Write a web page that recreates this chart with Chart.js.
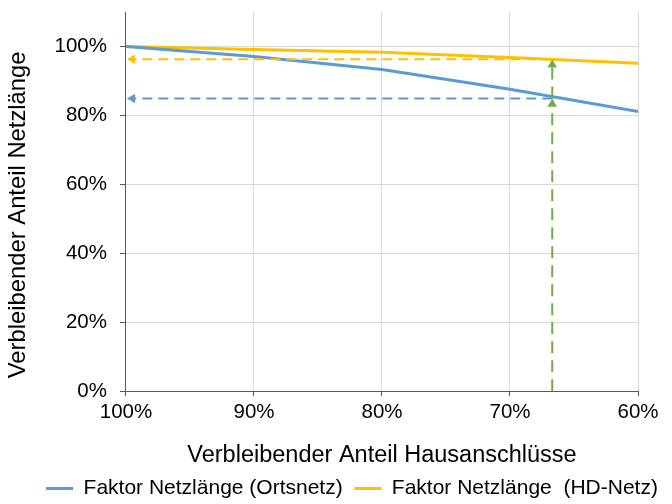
<!DOCTYPE html>
<html>
<head>
<meta charset="utf-8">
<script src="https://cdn.jsdelivr.net/npm/chart.js@4.4.0/dist/chart.umd.min.js"></script>
<style>
  html, body { margin: 0; padding: 0; background: #fff; }
  #box { width: 672px; height: 504px; }
</style>
</head>
<body>
<div id="box"><canvas id="chart"></canvas></div>
<script>
// Anteil Hausanschlüsse (x) und Netzlänge (y), in %
const hausanschluss = [100, 90, 80, 70, 60];
const ortsnetz = [100, 97.1, 93.3, 87.6, 81.1];
const hdNetz = [100, 99.1, 98.3, 96.8, 95.1];
const seriesNames = ['Faktor Netzlänge (Ortsnetz)', 'Faktor Netzlänge  (HD-Netz)'];

// Ablesebeispiel: 2/3 der Hausanschlüsse
const markX = 66.7;
const markOrts = 84.9;
const markHd = 96.3;
const arrowEndX = 99.5;

const blue = '#5B9BD5';
const orange = '#FFC000';
const green = '#70AD47';
const fontFamily = 'Liberation Sans';

const toPts = (xs, ys) => xs.map((x, i) => ({ x: x, y: ys[i] }));

function dashed(color, pts, rot, dash) {
  return {
    label: '',
    data: pts,
    borderColor: color,
    backgroundColor: color,
    borderWidth: 2,
    borderDash: dash,
    pointStyle: 'triangle',
    pointRadius: [0, 5.5],
    pointRotation: rot,
    pointBorderWidth: 0,
    pointHoverRadius: 0,
    order: 0
  };
}

const ctx = document.getElementById('chart').getContext('2d');
new Chart(ctx, {
  type: 'line',
  data: {
    datasets: [
      {
        // two trailing spaces = gap between the legend entries
        label: seriesNames[0] + '  ',
        data: toPts(hausanschluss, ortsnetz),
        borderColor: blue,
        backgroundColor: blue,
        borderWidth: 3,
        pointRadius: 0,
        tension: 0,
        order: 1
      },
      {
        label: seriesNames[1],
        data: toPts(hausanschluss, hdNetz),
        borderColor: orange,
        backgroundColor: orange,
        borderWidth: 3,
        pointRadius: 0,
        tension: 0,
        order: 1
      },
      dashed(blue, [{ x: markX, y: markOrts }, { x: arrowEndX, y: markOrts }], -90, [10, 6]),
      dashed(orange, [{ x: markX, y: markHd }, { x: arrowEndX, y: markHd }], -90, [10, 6]),
      dashed(green, [{ x: markX, y: 0 }, { x: markX, y: markOrts - 1.6 }], 0, [12, 7]),
      dashed(green, [{ x: markX, y: markOrts }, { x: markX, y: markHd - 1.6 }], 0, [12, 7])
    ]
  },
  options: {
    responsive: true,
    maintainAspectRatio: false,
    animation: false,
    layout: { padding: { top: 0, right: 0, left: 32, bottom: -5 } },
    plugins: {
      tooltip: { enabled: false },
      legend: {
        position: 'bottom',
        labels: {
          filter: item => item.text !== '',
          color: '#000',
          font: { family: fontFamily, size: 21 },
          boxWidth: 27,
          boxHeight: 3,
          padding: 0,
          generateLabels: chart => Chart.defaults.plugins.legend.labels.generateLabels(chart).map(it => {
            it.lineWidth = 0;
            return it;
          })
        }
      }
    },
    scales: {
      x: {
        type: 'linear',
        reverse: true,
        min: 60,
        max: 100,
        afterFit: s => { s.paddingRight = 34; },
        title: {
          display: true,
          text: 'Verbleibender Anteil Hausanschlüsse',
          color: '#000',
          font: { family: fontFamily, size: 23.5 },
          padding: { top: 13, bottom: 8 }
        },
        ticks: {
          stepSize: 10,
          color: '#000',
          font: { family: fontFamily, size: 20.5 },
          callback: v => v + '%',
          padding: 4
        },
        grid: { color: '#D9D9D9', tickColor: '#595959', tickLength: 5 },
        border: { color: '#595959', width: 1 }
      },
      y: {
        min: 0,
        max: 110,
        afterFit: s => { s.paddingTop = 12; },
        title: {
          display: true,
          // trailing spaces shift the rotated title slightly downwards, as in the original
          text: 'Verbleibender Anteil Netzlänge    ',
          color: '#000',
          font: { family: fontFamily, size: 23.8 },
          padding: { top: -28, bottom: 9 }
        },
        ticks: {
          stepSize: 20,
          includeBounds: false,
          color: '#000',
          font: { family: fontFamily, size: 20.5 },
          callback: v => v + '%',
          padding: 13
        },
        grid: { color: '#D9D9D9', tickColor: '#595959', tickLength: 6 },
        border: { color: '#595959', width: 1 }
      }
    }
  }
});
</script>
</body>
</html>
